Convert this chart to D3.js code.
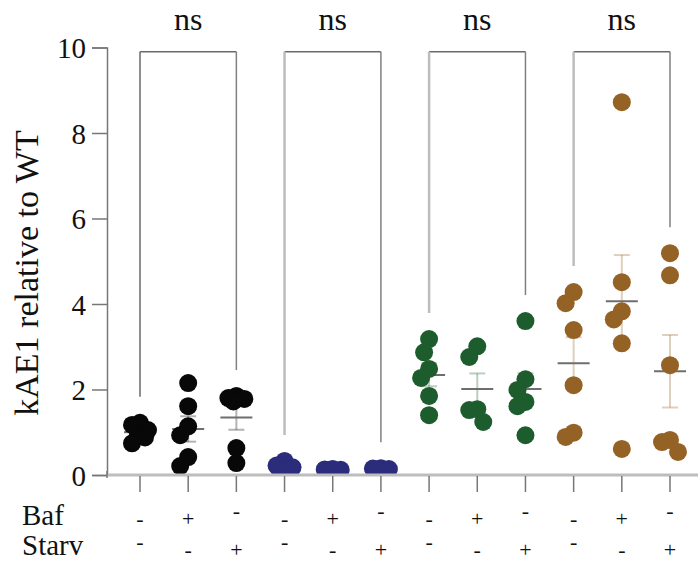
<!DOCTYPE html>
<html>
<head>
<meta charset="utf-8">
<script src="https://cdn.jsdelivr.net/npm/d3@7"></script>
<style>
  html, body { margin: 0; padding: 0; background: #fff; }
  svg { display: block; }
</style>
</head>
<body>
<svg id="chart" width="698" height="565"></svg>
<script>
// Treatment rows shown beneath each column
const bafRow   = ["-", "+", "-", "-", "+", "-", "-", "+", "-", "-", "+", "-"];
const starvRow = ["-", "-", "+", "-", "-", "+", "-", "-", "+", "-", "-", "+"];

// kAE1 relative to WT, one array per column (control, Baf, Starv) for each cell line
const blackValues = [
  [1.22, 1.17, 1.05, 0.95, 0.88, 0.74],
  [2.15, 1.61, 1.14, 0.93, 0.42, 0.21],
  [1.85, 1.80, 1.78, 1.72, 0.63, 0.28]
];
const navyValues = [
  [0.33, 0.22, 0.18, 0.15, 0.12, 0.10],
  [0.14, 0.13, 0.12, 0.11, 0.10, 0.08],
  [0.16, 0.15, 0.14, 0.12, 0.11, 0.09]
];
const greenValues = [
  [3.18, 2.87, 2.48, 2.27, 1.85, 1.40],
  [3.01, 2.76, 1.54, 1.52, 1.24],
  [3.60, 2.24, 1.99, 1.71, 1.61, 0.93]
];
const brownValues = [
  [4.28, 4.02, 3.39, 2.10, 0.99, 0.89],
  [8.72, 4.51, 3.83, 3.64, 3.08, 0.61],
  [5.19, 4.67, 2.57, 0.82, 0.77, 0.54]
];

const groupValues = [blackValues, navyValues, greenValues, brownValues];
const groupColors = ["#080808", "#2b2c7c", "#1d5c2d", "#956226"];
const sigLabels = ["ns", "ns", "ns", "ns"];
const yTicks = [0, 2, 4, 6, 8, 10];
const yLabel = "kAE1 relative to WT";
const bracketLevel = 9.9;

const serif = "'Liberation Serif', 'Times New Roman', serif";

// Flatten into columns
const columns = [];
groupValues.forEach((g, gi) => g.forEach((vals, ci) => {
  columns.push({ id: gi * 3 + ci, group: gi, values: vals, color: groupColors[gi] });
}));

const svg = d3.select("#chart");
const axisLeftX = 107, axisRightX = 698;
const x = d3.scalePoint().domain(columns.map(c => c.id)).range([140, 670]);
const y = d3.scaleLinear().domain([0, 10]).range([475, 47.5]);
const r = 9;

svg.append("defs").append("clipPath").attr("id", "plotClip")
  .append("rect").attr("x", axisLeftX).attr("y", 0)
  .attr("width", axisRightX - axisLeftX).attr("height", y(0));

function label(sel, size) {
  return sel.style("font-family", serif).style("font-size", size + "px").attr("fill", "#111");
}

// Significance brackets
columns.forEach(c => { c.max = d3.max(c.values); });
sigLabels.forEach((lab, gi) => {
  const left = columns[gi * 3], right = columns[gi * 3 + 2];
  const x1 = x(left.id), x2 = x(right.id), yt = y(bracketLevel);
  const yl = y(left.max) - 26, yr = y(right.max) - 26;
  const lightLeft = gi > 0;
  svg.append("line").attr("x1", x1).attr("x2", x2).attr("y1", yt).attr("y2", yt)
    .attr("stroke", "#6a6a6a").attr("stroke-width", 1.5);
  svg.append("line").attr("x1", x1).attr("x2", x1).attr("y1", yt).attr("y2", yl)
    .attr("stroke", lightLeft ? "#bdbdbd" : "#6a6a6a").attr("stroke-width", lightLeft ? 2.5 : 1.5);
  svg.append("line").attr("x1", x2).attr("x2", x2).attr("y1", yt).attr("y2", yr)
    .attr("stroke", "#808080").attr("stroke-width", 1.5);
  label(svg.append("text"), 32).attr("x", (x1 + x2) / 2).attr("y", 30)
    .attr("text-anchor", "middle").text(lab);
});

// Y axis
const yAxis = svg.append("g").attr("transform", `translate(${axisLeftX},0)`)
  .call(d3.axisLeft(y).tickValues(yTicks).tickSize(15).tickPadding(6).tickFormat(d3.format("d")));
yAxis.select(".domain").attr("stroke", "#777").attr("stroke-width", 1.5);
yAxis.selectAll(".tick line").attr("stroke", "#777").attr("stroke-width", 1.5);
label(yAxis.selectAll(".tick text"), 29).attr("dy", "0.36em");

label(svg.append("text"), 34)
  .attr("transform", `translate(38,273) rotate(-90)`)
  .attr("text-anchor", "middle").text(yLabel);

// Error bars (mean ± SEM) drawn beneath the points
columns.forEach(c => {
  const m = d3.mean(c.values);
  const sem = d3.deviation(c.values) / Math.sqrt(c.values.length);
  const cx = x(c.id);
  const g = svg.append("g");
  g.append("line").attr("x1", cx).attr("x2", cx).attr("y1", y(m + sem)).attr("y2", y(Math.max(0, m - sem)))
    .attr("stroke", c.color).attr("stroke-opacity", 0.3).attr("stroke-width", 2);
  [m + sem, m - sem].forEach(v => {
    if (v < 0) return;
    g.append("line").attr("x1", cx - 8).attr("x2", cx + 8).attr("y1", y(v)).attr("y2", y(v))
      .attr("stroke", c.color).attr("stroke-opacity", 0.3).attr("stroke-width", 2);
  });
  g.append("line").attr("x1", cx - 16).attr("x2", cx + 16).attr("y1", y(m)).attr("y2", y(m))
    .attr("stroke", "#6e6e6e").attr("stroke-width", 2);
});

// Scatter points, spread sideways so they do not stack
function swarm(values, cx) {
  const minD = 14, maxOff = 8;
  const placed = [];
  const sorted = values.slice().sort((a, b) => b - a);
  sorted.forEach((v, i) => {
    const cy = y(v);
    const sign = i % 2 === 0 ? 1 : -1;
    let best = null;
    for (let k = 0; k <= maxOff && best === null; k++) {
      for (const s of (k === 0 ? [0] : [sign * k, -sign * k])) {
        const d = placed.length ? d3.min(placed, p => Math.hypot(p.dx - s, p.cy - cy)) : Infinity;
        if (d >= minD) { best = s; break; }
      }
    }
    if (best === null) {
      let bd = -1;
      for (let s = -maxOff; s <= maxOff; s++) {
        const d = d3.min(placed, p => Math.hypot(p.dx - s, p.cy - cy));
        if (d > bd) { bd = d; best = s; }
      }
    }
    placed.push({ v, dx: best, cy });
  });
  return placed.map(p => ({ v: p.v, x: cx + p.dx }));
}

const pts = svg.append("g").attr("clip-path", "url(#plotClip)");
columns.forEach(c => {
  pts.selectAll(null).data(swarm(c.values, x(c.id))).enter().append("circle")
    .attr("cx", d => d.x).attr("cy", d => y(d.v)).attr("r", r).attr("fill", c.color);
});

// X axis with a tick under every column
svg.append("line").attr("x1", axisLeftX).attr("x2", axisRightX).attr("y1", y(0)).attr("y2", y(0))
  .attr("stroke", "#bdbdbd").attr("stroke-width", 3);
svg.append("line").attr("x1", axisLeftX).attr("x2", axisLeftX).attr("y1", y(0) - 4).attr("y2", y(0) + 3)
  .attr("stroke", "#777").attr("stroke-width", 1.5);
svg.selectAll(null).data(columns).enter().append("line")
  .attr("x1", c => x(c.id)).attr("x2", c => x(c.id)).attr("y1", y(0) + 1).attr("y2", y(0) + 17)
  .attr("stroke", "#777").attr("stroke-width", 1.5);

// Treatment table; the untreated dash sits a little higher in the column where
// the other row carries the "+"
label(svg.append("text"), 29).attr("x", 22).attr("y", 525).text("Baf");
label(svg.append("text"), 29).attr("x", 22).attr("y", 555).text("Starv");
[{ labels: bafRow, other: starvRow, base: 526 }, { labels: starvRow, other: bafRow, base: 557, raiseFirst: true }]
  .forEach(row => {
    label(svg.selectAll(null).data(row.labels).enter().append("text"), 22)
      .attr("x", (d, i) => x(columns[i].id))
      .attr("y", (d, i) => {
        const raised = d === "-" && (row.raiseFirst ? i % 3 === 0 : row.other[i] === "+");
        return row.base - (raised ? 8 : 0);
      })
      .attr("text-anchor", "middle").text(d => d);
  });
</script>
</body>
</html>
